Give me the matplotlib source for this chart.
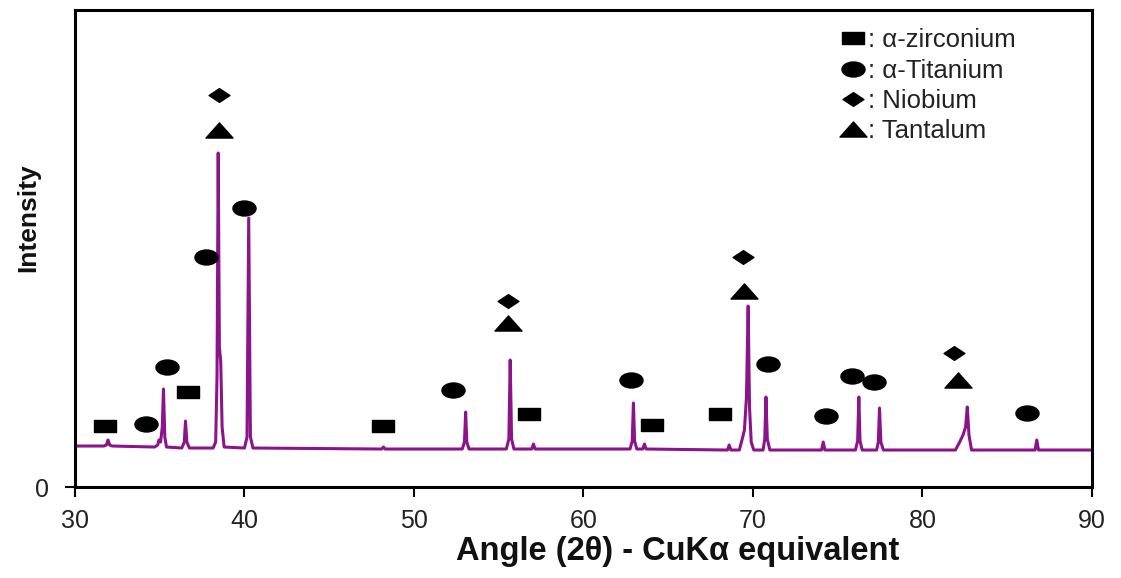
import matplotlib
matplotlib.use("Agg")
import matplotlib.pyplot as plt
from matplotlib.path import Path
from matplotlib.lines import Line2D
from matplotlib.transforms import Affine2D

plt.rcParams['font.family'] = ['Liberation Sans', 'DejaVu Sans']

# diffraction pattern (2theta in degrees, intensity in arb. units)
two_theta = [30.0, 31.7, 31.85, 31.95, 32.05, 32.2,
             34.7, 34.88, 34.95, 35.05, 35.15, 35.22, 35.3, 35.4,
             36.3, 36.45, 36.52, 36.6, 36.75,
             38.15, 38.3, 38.38, 38.45, 38.52, 38.6, 38.68, 38.8,
             40.0, 40.15, 40.25, 40.35, 40.5,
             48.1, 48.2, 48.3,
             52.85, 52.98, 53.05, 53.12, 53.25,
             55.45, 55.6, 55.68, 55.76, 55.9,
             56.95, 57.05, 57.15,
             62.75, 62.88, 62.95, 63.02, 63.15,
             63.5, 63.6, 63.7,
             68.5, 68.6, 68.7,
             69.2, 69.4, 69.5, 69.62, 69.72, 69.8, 69.9, 70.05,
             70.6, 70.7, 70.77, 70.85, 71.0,
             74.05, 74.15, 74.25,
             76.05, 76.18, 76.25, 76.32, 76.45,
             77.3, 77.4, 77.47, 77.55, 77.7,
             81.95, 82.2, 82.4, 82.55, 82.65, 82.75, 82.9,
             86.65, 86.75, 86.85, 90.0]
intensity = [41, 41, 42, 47, 42, 41,
             40, 42, 47, 45, 60, 98, 50, 40,
             39, 45, 66, 45, 39,
             39, 45, 110, 334, 140, 125, 60, 40,
             39, 50, 269, 50, 39,
             38, 40, 38,
             38, 45, 75, 45, 38,
             38, 48, 127, 48, 38,
             38, 43, 38,
             38, 46, 84, 46, 38,
             38, 43, 38,
             37, 42, 37,
             37, 50, 57, 90, 181, 80, 45, 37,
             37, 48, 90, 48, 37,
             37, 45, 37,
             37, 46, 90, 46, 37,
             37, 45, 79, 45, 37,
             37, 45, 52, 60, 80, 52, 37,
             37, 47, 37, 37]

# phase markers above the peaks
zr_x = [31.77, 36.67, 48.2, 56.8, 64.04, 68.05]
zr_y = [61, 95, 61, 73, 62, 73]
ti_x = [34.19, 35.4, 37.73, 39.97, 52.3, 62.8, 70.9, 74.3, 75.84, 77.14, 86.2]
ti_y = [63, 120, 230, 279, 97, 107, 123, 71, 111, 105, 74]
nb_x = [38.5, 55.55, 69.4, 81.86]
nb_y = [392, 186, 230, 134]
ta_x = [38.5, 55.55, 69.47, 82.1]
ta_y = [357, 164, 196, 107]

phase_labels = [': \u03b1-zirconium', ': \u03b1-Titanium', ': Niobium', ': Tantalum']
xticks = [30, 40, 50, 60, 70, 80, 90]

# wide, flat marker shapes
m_rect = Path([(-1, -0.55), (1, -0.55), (1, 0.55), (-1, 0.55), (-1, -0.55)], closed=True)
m_ell = Affine2D().scale(1, 0.65).transform_path(Path.unit_circle())
m_diam = Path([(-1, 0), (0, 0.66), (1, 0), (0, -0.66), (-1, 0)], closed=True)
m_tri = Path([(-1, -0.56), (1, -0.56), (0, 0.56), (-1, -0.56)], closed=True)

fig = plt.figure(figsize=(11.21, 5.78), dpi=100)
ax = fig.add_axes([0.0669, 0.1574, 0.9071, 0.8253])

ax.plot(two_theta, intensity, color='#8b148b', lw=2.2, solid_joinstyle='round')

ax.plot(zr_x, zr_y, ls='none', marker=m_rect, ms=15.8, color='black')
ax.plot(ti_x, ti_y, ls='none', marker=m_ell, ms=16.6, color='black')
ax.plot(nb_x, nb_y, ls='none', marker=m_diam, ms=15, color='black')
ax.plot(ta_x, ta_y, ls='none', marker=m_tri, ms=19.4, color='black')

handles = [Line2D([], [], ls='none', marker=m, ms=s, color='black')
           for m, s in [(m_rect, 15.8), (m_ell, 16.6), (m_diam, 15), (m_tri, 19.4)]]
leg = ax.legend(handles, phase_labels, loc='upper left', bbox_to_anchor=(0.752, 0.962),
                frameon=False, fontsize=18.5, handlelength=1.0, handletextpad=0.1,
                labelspacing=0.25, borderpad=0, borderaxespad=0, numpoints=1)
for t in leg.get_texts():
    t.set_color('#222222')

ax.set_xlim(30, 90)
ax.set_ylim(0, 477)
ax.set_xticks(xticks)
ax.set_yticks([0])
ax.tick_params(axis='x', direction='out', length=7, width=1.5, pad=9,
               labelsize=18, labelcolor='#222222')
ax.tick_params(axis='y', direction='out', length=7, width=1.5, pad=12,
               labelsize=18, labelcolor='#222222')
for sp in ax.spines.values():
    sp.set_linewidth(2.2)

ax.set_xlabel('Angle (2\u03b8) - CuK\u03b1 equivalent', fontsize=23.5, fontweight='bold',
              color='#111111')
ax.xaxis.set_label_coords(0.593, -0.102)
ax.set_ylabel('Intensity', fontsize=19, fontweight='bold', color='#111111')
ax.yaxis.set_label_coords(-0.034, 0.565)

fig.savefig('out.png', dpi=100)
